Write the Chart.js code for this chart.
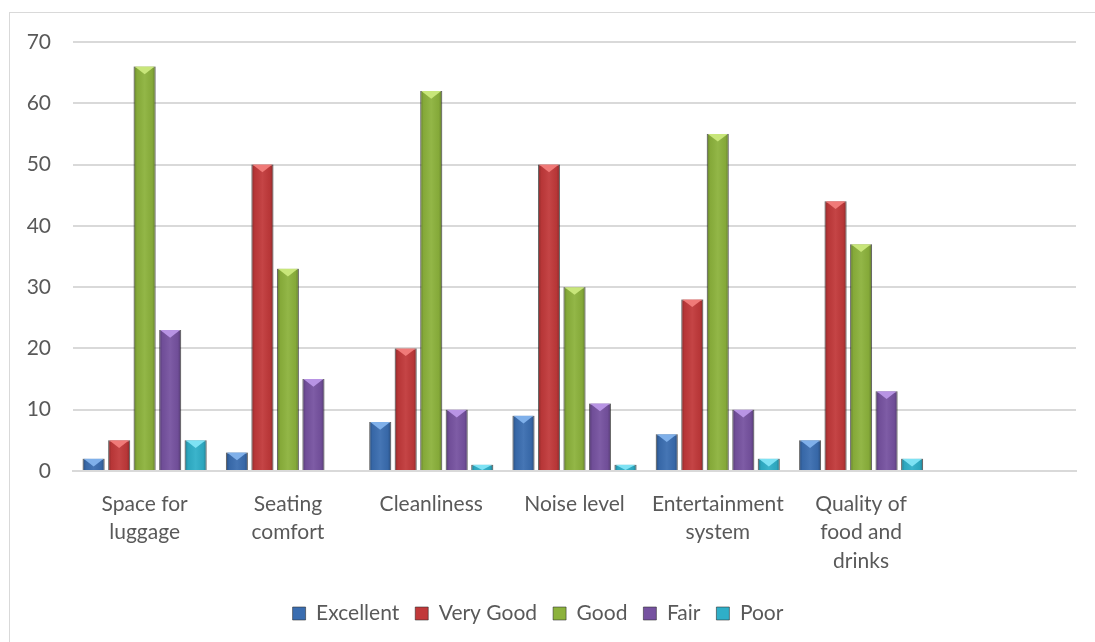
<!DOCTYPE html>
<html>
<head>
<meta charset="utf-8">
<script src="https://cdn.jsdelivr.net/npm/chart.js@4.4.0/dist/chart.umd.min.js"></script>
<style>
  html, body { margin: 0; padding: 0; background: #fff; }
  #frame { position: absolute; left: 9px; top: 12px; width: 1100px; height: 640px; border: 1px solid #d9d9d9; }
  #wrap { position: absolute; left: 0; top: 0; width: 1095px; height: 642px; }
</style>
</head>
<body>
<div id="frame"></div>
<div id="wrap"><canvas id="chart"></canvas></div>
<script>
// Categories and series
const categories = [
    ['Space for', 'luggage'],
    ['Seating', 'comfort'],
    ['Cleanliness'],
    ['Noise level'],
    ['Entertainment', 'system'],
    ['Quality of', 'food and', 'drinks'],
    ''
];
const excellent = [2, 3, 8, 9, 6, 5];
const veryGood  = [5, 50, 20, 50, 28, 44];
const good      = [66, 33, 62, 30, 55, 37];
const fair      = [23, 15, 10, 11, 10, 13];
const poor      = [5, 0, 1, 1, 2, 2];
const yTicks    = [0, 10, 20, 30, 40, 50, 60, 70];

const seriesNames  = ['Excellent', 'Very Good', 'Good', 'Fair', 'Poor'];
const seriesColors = ['#3A6DB0', '#C1393A', '#8CB23C', '#7652A0', '#2FAFC8'];
const bevelColors  = ['#7FB0EA', '#F07A78', '#C8E67A', '#B894E4', '#7EE2F4'];

// Fake bevel look: dark sides and a lighter "V" at the top of every bar
const bevelPlugin = {
    id: 'bevel',
    afterDatasetsDraw(chart) {
        const ctx = chart.ctx;
        chart.data.datasets.forEach((ds, i) => {
            chart.getDatasetMeta(i).data.forEach(bar => {
                const w = bar.width;
                const left = bar.x - w / 2;
                const h = bar.base - bar.y;
                if (h <= 0) return;
                ctx.save();
                const g = ctx.createLinearGradient(left, 0, left + w, 0);
                g.addColorStop(0, 'rgba(0,0,0,0.30)');
                g.addColorStop(0.15, 'rgba(0,0,0,0.05)');
                g.addColorStop(0.5, 'rgba(255,255,255,0.06)');
                g.addColorStop(0.85, 'rgba(0,0,0,0.05)');
                g.addColorStop(1, 'rgba(0,0,0,0.30)');
                ctx.fillStyle = g;
                ctx.fillRect(left, bar.y, w, h);
                const d = Math.min(w * 0.35, h);
                ctx.fillStyle = bevelColors[i];
                ctx.beginPath();
                ctx.moveTo(left + 1, bar.y);
                ctx.lineTo(left + w - 1, bar.y);
                ctx.lineTo(bar.x, bar.y + d);
                ctx.closePath();
                ctx.fill();
                ctx.restore();
            });
        });
    }
};

const seriesData = [excellent, veryGood, good, fair, poor];
const textFont = { family: 'Lato', size: 21, lineHeight: 1.35 };

new Chart(document.getElementById('chart'), {
    type: 'bar',
    data: {
        labels: categories,
        datasets: seriesNames.map((name, i) => ({
            label: name,
            data: seriesData[i],
            backgroundColor: seriesColors[i],
            borderColor: 'rgba(40,40,40,0.55)',
            borderWidth: 1,
            categoryPercentage: 0.89,
            barPercentage: 0.86
        }))
    },
    options: {
        responsive: true,
        maintainAspectRatio: false,
        animation: false,
        layout: { padding: { top: 42, right: 19, left: 0, bottom: 8 } },
        plugins: {
            tooltip: { enabled: false },
            legend: {
                position: 'bottom',
                labels: {
                    font: { family: 'Lato', size: 21 },
                    color: '#595959',
                    boxWidth: 13,
                    boxHeight: 13,
                    padding: 16
                }
            }
        },
        scales: {
            x: {
                afterFit: axis => { axis.height = 116; },
                grid: { display: false },
                border: { color: '#d9d9d9', width: 2 },
                ticks: {
                    font: textFont,
                    color: '#595959',
                    maxRotation: 0,
                    autoSkip: false,
                    padding: 11
                }
            },
            y: {
                min: 0,
                max: 70,
                afterBuildTicks: axis => { axis.ticks = yTicks.map(v => ({ value: v })); },
                afterFit: axis => { axis.width = 73; },
                grid: { color: '#d9d9d9', lineWidth: 2, drawTicks: false },
                border: { display: false },
                ticks: {
                    font: { family: 'Lato', size: 21 },
                    color: '#595959',
                    padding: 22
                }
            }
        }
    },
    plugins: [bevelPlugin]
});
</script>
</body>
</html>
